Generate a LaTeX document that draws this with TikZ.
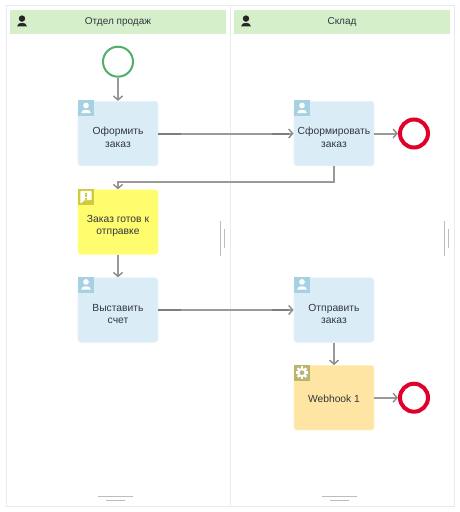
\documentclass[tikz,border=0pt]{standalone}
\usepackage{fontspec}
\setmainfont{Liberation Sans}
\usetikzlibrary{arrows.meta}
\definecolor{lanehead}{HTML}{D5EFCB}
\definecolor{laneline}{HTML}{EAEAEC}
\definecolor{handle}{HTML}{BDBDBD}
\definecolor{flow}{HTML}{9A9A9A}
\definecolor{flowdark}{HTML}{7E7E7E}
\definecolor{taskfill}{HTML}{DAEDF7}
\definecolor{taskedge}{HTML}{E6F3FA}
\definecolor{taskicon}{HTML}{A5D1E3}
\definecolor{notefill}{HTML}{FFFD6E}
\definecolor{noteedge}{HTML}{FFFE9A}
\definecolor{noteicon}{HTML}{CFCB3C}
\definecolor{hookfill}{HTML}{FFE5A3}
\definecolor{hookedge}{HTML}{FFEEC4}
\definecolor{hookicon}{HTML}{B7B56F}
\definecolor{startgreen}{HTML}{4FAF6B}
\definecolor{endred}{HTML}{E0002A}
\definecolor{ink}{HTML}{33363F}
\tikzset{
  x=1pt,y=-1pt,
  lane/.style={draw=laneline,line width=1.2pt,fill=white,minimum width=224pt,minimum height=501pt,inner sep=0pt,anchor=north west},
  laneheader/.style={fill=lanehead,minimum width=216pt,minimum height=24pt,inner sep=0pt,text=ink,font=\fontsize{10}{11}\selectfont},
  box/.style={rounded corners=3pt,line width=0.8pt,minimum width=80pt,minimum height=64.5pt,inner sep=0pt},
  task/.style={box,draw=taskedge,fill=taskfill},
  note/.style={box,draw=noteedge,fill=notefill},
  hook/.style={box,draw=hookedge,fill=hookfill},
  caption/.style={align=center,text=ink,inner sep=0pt,font=\fontsize{10.3}{12.5}\selectfont},
  startev/.style={circle,draw=startgreen,line width=2pt,fill=white,minimum size=30pt,inner sep=0pt},
  endev/.style={circle,draw=endred,line width=4pt,fill=white,minimum size=28pt,inner sep=0pt},
  seq/.style={draw=flow,line width=2pt,-{Straight Barb[length=4pt,width=9pt,line width=1.4pt,color=flowdark!90!white]}},
  seqdark/.style={draw=flowdark,line width=2pt},
  grip/.style={draw=handle,line width=0.9pt},
}
\newcommand{\usericon}[4]{% position, body colour, scale, head radius
  \begin{scope}[shift={#1},scale=#3]
    \fill[#2] (0,-3.6) circle (#4);
    \fill[#2] (-5.2,4.6) .. controls (-5.2,1.6) and (-2.5,1) .. (0,1) .. controls (2.5,1) and (5.2,1.6) .. (5.2,4.6) -- cycle;
  \end{scope}}
\begin{document}
\begin{tikzpicture}
\useasboundingbox (0,0) rectangle (460,512);
\fill[white] (0,0) rectangle (460,512);
% lanes
\node[lane] (laneA) at (5.5,5) {};
\node[lane] (laneB) at (229.5,5) {};
\node[laneheader] (headA) at (118,22) {Отдел продаж};
\node[laneheader] (headB) at (342,22) {Склад};
\usericon{(22,22)}{black!85}{0.95}{3.4}
\usericon{(246,22)}{black!85}{0.95}{3.4}
% lane handles
\foreach \dx in {0,224}{
  \draw[grip] (220.3+\dx,221) -- (220.3+\dx,256);
  \draw[grip] (224.3+\dx,229) -- (224.3+\dx,248);
  \draw[grip] (98+\dx,496) -- (133+\dx,496);
  \draw[grip] (106+\dx,500.5) -- (125+\dx,500.5);
}
% nodes
\node[startev] (start) at (118,61.7) {};
\node[task] (t1) at (118,133.5) {};
\node[task] (t2) at (334,133.5) {};
\node[note] (n1) at (118,222) {};
\node[task] (t3) at (118,310) {};
\node[task] (t4) at (334,310) {};
\node[hook] (w1) at (334,397.7) {};
\node[endev] (e1) at (414,133.5) {};
\node[endev] (e2) at (414,397.7) {};
% captions
\node[caption] (c1) at ([yshift=-3.8pt]t1.center) {Оформить\\заказ};
\node[caption] (c2) at ([yshift=-3.8pt]t2.center) {Сформировать\\заказ};
\node[caption] (c3) at ([yshift=-3.8pt]n1.center) {Заказ готов к\\отправке};
\node[caption] (c4) at ([yshift=-3.8pt]t3.center) {Выставить\\счет};
\node[caption] (c5) at ([yshift=-3.8pt]t4.center) {Отправить\\заказ};
\node[caption] (c6) at ([yshift=-0.8pt]w1.center) {Webhook 1};
% icons
\foreach \b in {t1,t2,t3,t4}{
  \fill[taskicon] (\b.north west) ++(0.4,-0.4) rectangle ++(16,16);
  \path (\b.north west) ++(8.4,8) coordinate (ic);
  \usericon{(ic)}{white}{0.95}{3}
}
\fill[noteicon] (n1.north west) ++(0.4,-0.4) rectangle ++(16,16);
\path (n1.north west) ++(8.4,7.6) coordinate (ic);
\begin{scope}[shift={(ic)}]
  \fill[white,rounded corners=0.8pt] (-5.6,-6) -- (5.6,-6) -- (5.6,3.2) -- (-1.5,3.2) -- (-5.6,6.8) -- cycle;
  \fill[noteicon] (-0.8,-4.4) rectangle (0.8,0.4);
  \fill[noteicon] (-0.8,1.2) rectangle (0.8,2.6);
\end{scope}
\fill[hookicon] (w1.north west) ++(0.4,-0.4) rectangle ++(16,16);
\path (w1.north west) ++(8.4,7.6) coordinate (ic);
\begin{scope}[shift={(ic)}]
  \foreach \a in {0,45,...,315}{
    \fill[white,rotate=\a] (-1.3,-6.2) rectangle (1.3,-3);
  }
  \fill[white] (0,0) circle (4.7);
  \fill[hookicon] (0,0) circle (2.4);
\end{scope}
% connectors
\draw[seq] (start) -- (t1);
\draw[seq] (t1) -- (t2);
\draw[seqdark] (t1.east) -- ++(23,0);
\draw[seqdark] (t2.west) ++(-5,0) -- ++(-17,0);
\draw[seq] (t2) -- (e1);
\draw[seq] (t2.south) -- ++(0,15.5) -| (n1.north);
\draw[seq] (n1) -- (t3);
\draw[seq] (t3) -- (t4);
\draw[seqdark] (t3.east) -- ++(23,0);
\draw[seqdark] (t4.west) ++(-5,0) -- ++(-17,0);
\draw[seq] (t4) -- (w1);
\draw[seq] (w1) -- (e2);
\end{tikzpicture}
\end{document}
